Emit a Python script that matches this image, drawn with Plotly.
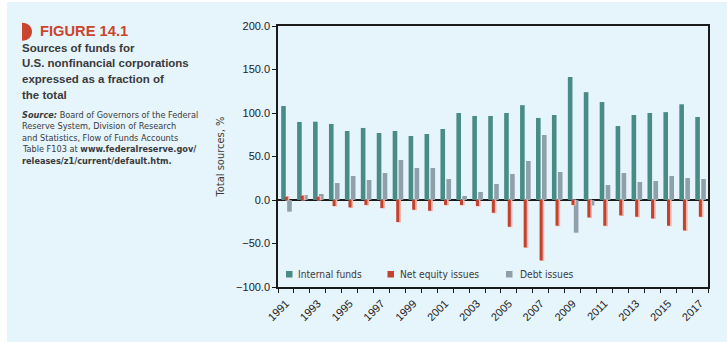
import plotly.graph_objects as go

# ---- data: sources of funds, % of total ----
years = list(range(1991, 2018))
internal_funds = [108, 89.7, 90, 87.4, 79.3, 82.8, 77, 79.3, 73.6, 75.9, 81.6, 100, 96.6,
                  96.6, 100, 109, 94.3, 97.7, 141.4, 124, 112.6, 85, 97.7, 100, 101, 110, 95.4]
net_equity = [3.8, 5, 3.8, -6.9, -8.4, -5.7, -9.2, -25.3, -11.1, -12.3, -5.7, -5.7, -6.9,
              -14.6, -30.7, -54.4, -69.3, -29.5, -5.7, -19.9, -29.5, -17.6, -19.2, -21.1,
              -29.5, -34.9, -19.2]
debt_issues = [-13.4, 5.7, 6.9, 19.5, 27.6, 23, 31, 46, 36.8, 36.8, 24.1, 4.6, 9.2, 18.4,
               29.9, 44.8, 74.7, 32.2, -37.6, -6.3, 17.2, 31, 20.7, 21.8, 27.6, 25.3, 24.1]
series_names = ["Internal funds", "Net equity issues", "Debt issues"]
y_ticks = [-100, -50, 0, 50, 100, 150, 200]
label_years = years[::2]

# ---- styling ----
TEAL = "#498c87"
RED = "#c1432f"
RED_SHADOW = "#f1b4a8"
GRAY = "#8fa0ab"
PANEL = "#e6f4fc"
INK = "#222222"
TEXT = "#3a3a3a"
HEAD_RED = "#c9452d"
NARROW = "DejaVu Sans Condensed, Liberation Sans Narrow, sans-serif"
SANS = "Liberation Sans, Arial, sans-serif"

W, H = 727, 342
L, R, T, B = 278, 19, 26, 55
PW, PH = W - L - R, H - T - B


def px(x):
    return (x - L) / PW


def py(y):
    return (H - B - y) / PH


fig = go.Figure()
fig.add_bar(x=years, y=internal_funds, name=series_names[0], width=0.29, offset=-0.30,
            marker=dict(color=TEAL, line_width=0))
fig.add_bar(x=years, y=debt_issues, name=series_names[2], width=0.29, offset=0.075,
            marker=dict(color=GRAY, line_width=0))
# soft drop shadow behind the equity bars
fig.add_bar(x=years, y=net_equity, width=0.19, offset=-0.01,
            marker=dict(color=RED_SHADOW, line=dict(width=1.2, color=RED_SHADOW)))
fig.add_bar(x=years, y=net_equity, name=series_names[1], width=0.19, offset=-0.075,
            marker=dict(color=RED, line_width=0))

fig.update_layout(
    width=W, height=H,
    margin=dict(l=L, r=R, t=T, b=B, pad=0),
    paper_bgcolor="white", plot_bgcolor="white",
    barmode="overlay", showlegend=False,
    font=dict(family=SANS, color=INK),
)
fig.update_xaxes(
    range=[years[0] - 0.5, years[-1] + 0.5],
    tickmode="array", tickvals=label_years, ticktext=[str(y) for y in label_years],
    tickangle=-45, ticks="outside", ticklen=4, tickcolor="rgba(0,0,0,0)",
    tickfont=dict(family=SANS, size=11, color=INK),
    showline=True, mirror=True, linecolor="#1a1a1a", linewidth=1.5,
    showgrid=False, zeroline=False,
    minor=dict(tickmode="array", tickvals=[y - 0.5 for y in years] + [years[-1] + 0.5],
               ticks="outside", ticklen=4, tickcolor="#1a1a1a", tickwidth=1, showgrid=False),
)
fig.update_yaxes(
    range=[y_ticks[0], y_ticks[-1]], tickmode="array", tickvals=y_ticks, tickformat=".1f",
    ticks="outside", ticklen=4, tickcolor="#1a1a1a",
    tickfont=dict(family=SANS, size=11, color=INK),
    showline=True, mirror=True, linecolor="#1a1a1a", linewidth=1.5,
    showgrid=False, zeroline=True, zerolinecolor="#1a1a1a", zerolinewidth=1.5,
    title=dict(text="Total sources, %", font=dict(family=NARROW, size=11, color=TEXT),
               standoff=9),
)

shapes = [
    # light-blue panel behind the figure
    dict(type="rect", xref="paper", yref="paper", x0=px(7), x1=px(W + 2), y0=py(2), y1=py(H + 2),
         fillcolor=PANEL, line_width=0, layer="below"),
]
# red half-disc marker before the figure number
x0, yt, yb, bulge = px(22), py(22.7), py(40.7), px(22 + 10 * 4 / 3)
shapes.append(dict(type="path", xref="paper", yref="paper",
                   path=f"M{x0},{yt} C{bulge},{yt} {bulge},{yb} {x0},{yb} Z",
                   fillcolor=HEAD_RED, line_width=0))

# legend swatches and labels
legend_items = [(series_names[0], TEAL, 286, 296.5),
                (series_names[1], RED, 387.5, 399),
                (series_names[2], GRAY, 506, 518.5)]
annotations = []
for name, color, sx, tx in legend_items:
    shapes.append(dict(type="rect", xref="paper", yref="paper", x0=px(sx), x1=px(sx + 6.5),
                       y0=py(277.5), y1=py(271), fillcolor=color, line_width=0))
    annotations.append(dict(text=name, x=px(tx), y=py(274.5), xanchor="left", yanchor="middle",
                            font=dict(family=NARROW, size=10.2, color=TEXT)))

annotations.append(dict(text="<b>FIGURE 14.1</b>", x=px(39), y=py(31.5), xanchor="left",
                        yanchor="middle", font=dict(family=SANS, size=14.7, color=HEAD_RED)))
headline = ["Sources of funds for", "U.S. nonfinancial corporations",
            "expressed as a fraction of", "the total"]
for line, yc in zip(headline, [47.5, 63, 78.5, 94.5]):
    annotations.append(dict(text=f"<b>{line}</b>", x=px(21), y=py(yc), xanchor="left",
                            yanchor="middle", font=dict(family=SANS, size=11.5, color=TEXT)))
source = ["<b><i>Source:</i></b> Board of Governors of the Federal",
          "Reserve System, Division of Research",
          "and Statistics, Flow of Funds Accounts",
          "Table F103 at <b>www.federalreserve.gov/</b>",
          "<b>releases/z1/current/default.htm.</b>"]
for line, yc in zip(source, [114.5, 126, 137.5, 149, 161]):
    annotations.append(dict(text=line, x=px(21), y=py(yc), xanchor="left", yanchor="middle",
                            font=dict(family=NARROW, size=9.1, color=TEXT)))

for a in annotations:
    a.update(xref="paper", yref="paper", showarrow=False, borderpad=0)
fig.update_layout(shapes=shapes, annotations=annotations)

fig.write_html("out.html")
